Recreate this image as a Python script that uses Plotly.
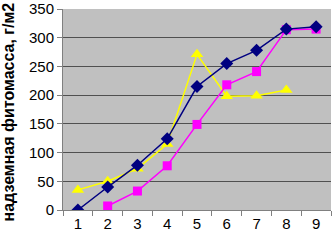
import plotly.graph_objects as go

x_vals = [1, 2, 3, 4, 5, 6, 7, 8, 9]
blue = [0, 40, 78, 124, 215, 255, 278, 315, 319]
magenta = [None, 7, 33, 77, 149, 218, 241, 314, 315]
yellow = [35, 50, 72, 115, 271, 198, 199, 209, None]
y_ticks = [0, 50, 100, 150, 200, 250, 300, 350]
y_title = "надземная фитомасса, г/м2"

fig = go.Figure()
fig.add_trace(go.Scatter(x=x_vals, y=yellow, mode="lines+markers",
                         line=dict(color="#FFFF00", width=1.5),
                         marker=dict(symbol="triangle-up", size=11, color="#FFFF00"),
                         connectgaps=False))
fig.add_trace(go.Scatter(x=x_vals, y=magenta, mode="lines+markers",
                         line=dict(color="#FF00FF", width=1.5),
                         marker=dict(symbol="square", size=9, color="#FF00FF")))
fig.add_trace(go.Scatter(x=x_vals, y=blue, mode="lines+markers",
                         line=dict(color="#000080", width=1.5),
                         marker=dict(symbol="diamond", size=10, color="#000080")))

fig.update_layout(
    width=332, height=240,
    margin=dict(l=63, r=1, t=9, b=30),
    paper_bgcolor="white", plot_bgcolor="#C0C0C0",
    showlegend=False,
    font=dict(family="Liberation Sans, Arial", size=15, color="black"),
    xaxis=dict(range=[0.5, 9.5], tickvals=x_vals, ticktext=[str(v) for v in x_vals],
               showgrid=False, zeroline=False, showline=True, linecolor="#808080",
               linewidth=1, ticks="", automargin=False, ticklabeloverflow="allow",
               minor=dict(ticks="outside", tick0=0.5, dtick=1, ticklen=5,
                          tickcolor="#808080", showgrid=False),
               tickfont=dict(size=15)),
    yaxis=dict(range=[0, 350.01], tickvals=y_ticks, showgrid=True, gridcolor="#505050",
               gridwidth=1, zeroline=False, showline=True, linecolor="#808080",
               ticks="outside", ticklen=5, tickcolor="#808080", automargin=False,
               ticklabeloverflow="allow", tickfont=dict(size=15)),
    annotations=[dict(text="<b>" + y_title + "</b>", textangle=-90, xref="paper", yref="paper",
                      x=0, y=0.5, xanchor="center", yanchor="middle", xshift=-55, yshift=-3,
                      showarrow=False, font=dict(size=16, color="black"))],
)
fig.write_html("out.html", config={"displayModeBar": False},
               post_script="document.body.style.margin='0';document.body.style.overflow='hidden';")
